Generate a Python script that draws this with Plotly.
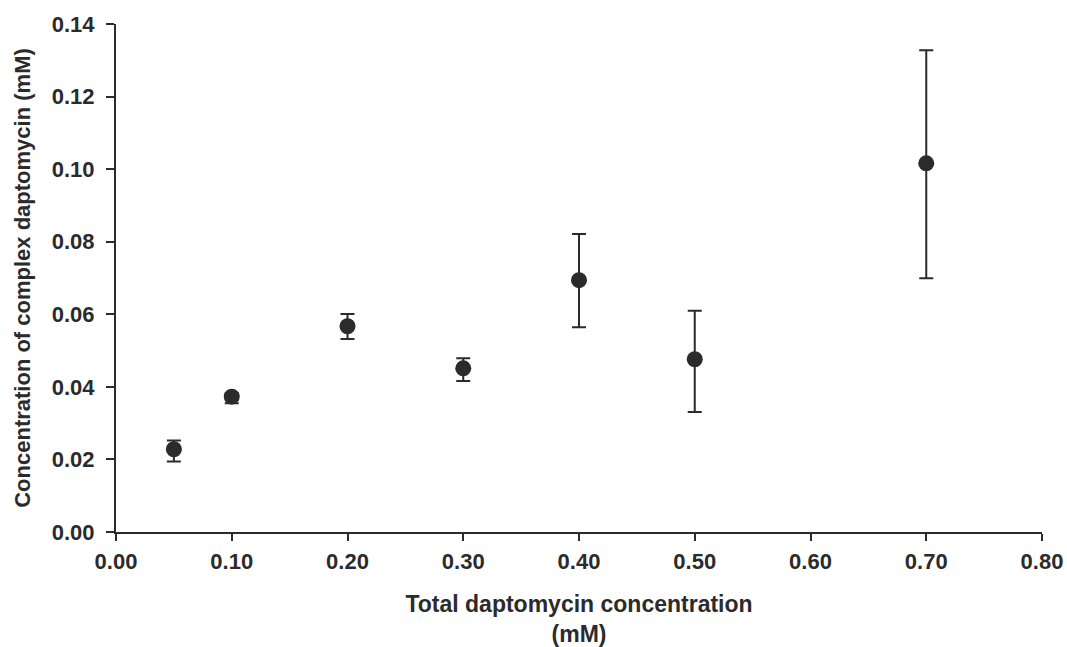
import plotly.graph_objects as go

# Data
total_conc = [0.05, 0.10, 0.20, 0.30, 0.40, 0.50, 0.70]
complex_conc = [0.0228, 0.0373, 0.0567, 0.0451, 0.0694, 0.0476, 0.1016]
err_plus = [0.0024, 0.0010, 0.0034, 0.0028, 0.0127, 0.0134, 0.0312]
err_minus = [0.0034, 0.0018, 0.0035, 0.0035, 0.0130, 0.0145, 0.0317]

x_ticks = [0.0, 0.1, 0.2, 0.3, 0.4, 0.5, 0.6, 0.7, 0.8]
x_ticklabels = ["0.00", "0.10", "0.20", "0.30", "0.40", "0.50", "0.60", "0.70", "0.80"]
y_ticks = [0.0, 0.02, 0.04, 0.06, 0.08, 0.10, 0.12, 0.14]
y_ticklabels = ["0.00", "0.02", "0.04", "0.06", "0.08", "0.10", "0.12", "0.14"]

ink = "#2b2b2b"
font_family = "Liberation Sans, Arial, sans-serif"

fig = go.Figure()
fig.add_trace(go.Scatter(
    x=total_conc, y=complex_conc, mode="markers",
    marker=dict(size=16, color=ink, line=dict(width=0)),
    error_y=dict(type="data", symmetric=False, array=err_plus, arrayminus=err_minus,
                 color=ink, thickness=2, width=7),
    showlegend=False, cliponaxis=False,
))

fig.update_layout(
    width=1067, height=647,
    margin=dict(l=116, r=25, t=24, b=115),
    paper_bgcolor="white", plot_bgcolor="white",
    font=dict(family=font_family, size=22, color=ink),
)
fig.update_xaxes(
    range=[0, 0.8], tickvals=x_ticks, ticktext=x_ticklabels,
    showline=True, linecolor=ink, linewidth=2, ticks="outside", ticklen=7,
    tickwidth=2, tickcolor=ink, showgrid=False, zeroline=False, automargin=False,
    tickfont=dict(family=font_family, size=22, color=ink, weight="bold"),
    ticklabelstandoff=2,
    title=dict(text="Total daptomycin concentration<br>(mM)",
               font=dict(family=font_family, size=23, color=ink, weight="bold"),
               standoff=28),
)
fig.update_yaxes(
    range=[0, 0.14], tickvals=y_ticks, ticktext=y_ticklabels,
    showline=True, linecolor=ink, linewidth=2, ticks="outside", ticklen=8,
    tickwidth=2, tickcolor=ink, showgrid=False, zeroline=False, automargin=False,
    tickfont=dict(family=font_family, size=22, color=ink, weight="bold"),
    ticklabelstandoff=7,
    title=dict(text="Concentration of complex daptomycin (mM)",
               font=dict(family=font_family, size=22, color=ink, weight="bold"),
               standoff=15),
)

fig.write_html(
    "out.html",
    config={"displayModeBar": False},
    post_script="document.body.style.margin='0';document.body.style.overflow='hidden';",
)
